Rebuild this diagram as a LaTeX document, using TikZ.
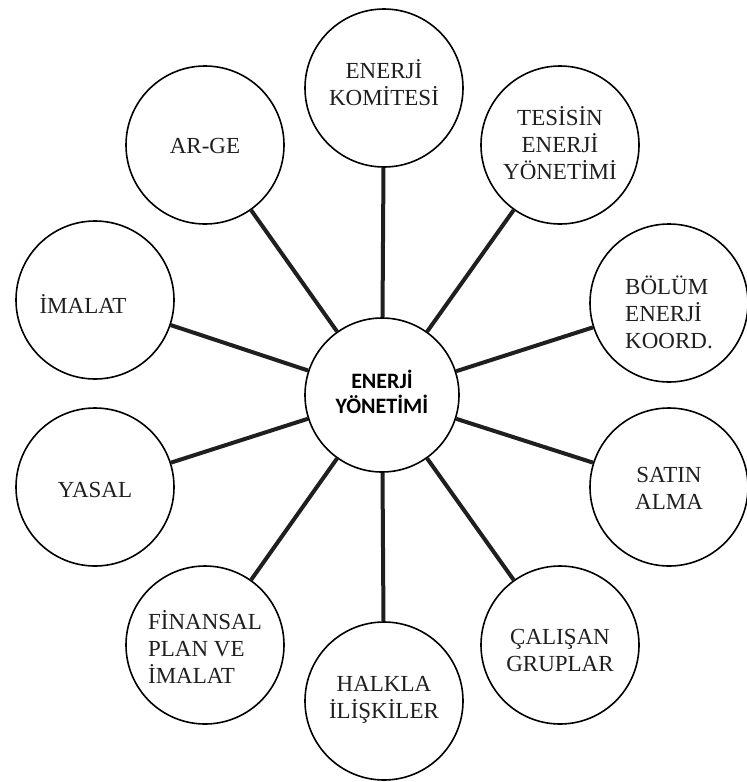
\documentclass[tikz,border=0pt]{standalone}
\usepackage{fontspec}
\setmainfont{Liberation Serif}
\newfontfamily\centerfont{Carlito}
\begin{document}
\begin{tikzpicture}[x=1pt,y=-1pt,
  outer/.style={circle,draw=black,line width=1.6pt,minimum size=158pt,inner sep=0pt,fill=white},
  inner/.style={circle,draw=black,line width=1.6pt,minimum size=154pt,inner sep=0pt,fill=white},
  lbl/.style={text=black!88,font=\fontsize{23}{27}\selectfont,align=center,inner sep=0pt},
  lbll/.style={lbl,align=left},
  clbl/.style={text=black,font=\centerfont\bfseries\fontsize{22}{25}\selectfont,align=center,inner sep=0pt},
  conn/.style={line width=4pt,draw=black!88}]
\useasboundingbox (0,0) rectangle (747,782);
% centre
\node[inner] (c) at (382,395) {};
% outer circles
\node[outer] (kom) at (384,88) {};
\node[outer] (tes) at (560,145) {};
\node[outer] (bol) at (669,303) {};
\node[outer] (sat) at (669,487) {};
\node[outer] (cal) at (560,645) {};
\node[outer] (hal) at (384,701) {};
\node[outer] (fin) at (205,645) {};
\node[outer] (yas) at (95,487) {};
\node[outer] (ima) at (95,300) {};
\node[outer] (arg) at (205,145) {};
% connectors
\foreach \n in {kom,tes,bol,sat,cal,hal,fin,yas,ima,arg}
  \draw[conn] (c) -- (\n);
% texts
\node[clbl] at ([yshift=3pt]c.center) {ENERJİ\\YÖNETİMİ};
\node[lbl] at ([yshift=5pt]kom.center) {ENERJİ\\KOMİTESİ};
\node[lbl] at ([yshift=2pt]tes.center) {TESİSİN\\ENERJİ\\YÖNETİMİ};
\node[lbll] at ([yshift=-9pt]bol.center) {BÖLÜM\\ENERJİ\\KOORD.};
\node[lbl] at ([yshift=-1pt]sat.center) {SATIN\\ALMA};
\node[lbl] at ([yshift=-5pt]cal.center) {ÇALIŞAN\\GRUPLAR};
\node[lbl] at ([yshift=1pt]hal.center) {HALKLA\\İLİŞKİLER};
\node[lbll] at ([yshift=-2pt]fin.center) {FİNANSAL\\PLAN VE\\İMALAT};
\node[lbl] at ([yshift=-3pt]yas.center) {YASAL};
\node[lbl] at ([xshift=-12pt,yshift=-4pt]ima.center) {İMALAT};
\node[lbl] at ([yshift=-1pt]arg.center) {AR-GE};
\end{tikzpicture}
\end{document}
